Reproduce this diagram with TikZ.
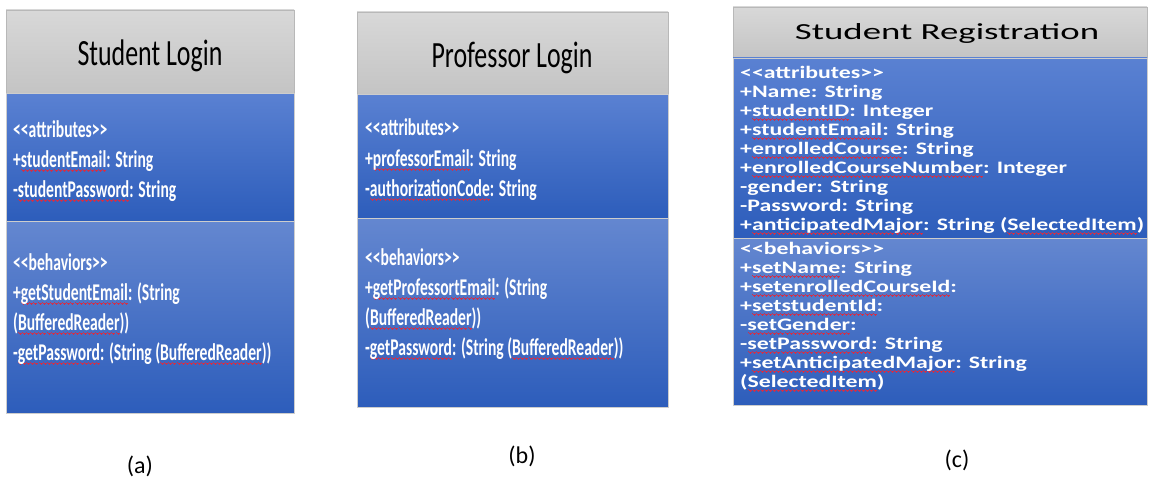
\documentclass[tikz,border=0pt]{standalone}
\usepackage{fontspec}
\setmainfont{Carlito}
\newfontfamily\condfont[FakeStretch=0.70]{Carlito}
\newfontfamily\condbody[FakeStretch=0.65]{Carlito}
\newfontfamily\widetitle[FakeStretch=1.6]{Carlito}
\newfontfamily\widebody[FakeStretch=1.36]{Carlito}
\definecolor{hdtop}{HTML}{D8D8D8}
\definecolor{hdbot}{HTML}{C4C4C4}
\definecolor{bltop}{HTML}{5A81D2}
\definecolor{blbot}{HTML}{2D5DBB}
\definecolor{bhtop}{HTML}{6487D0}
\definecolor{frame}{HTML}{B8B8B8}
\definecolor{squig}{HTML}{D0304A}
% red wavy spell-check underline, built from tiny rules
\newbox\sqbox
\newcommand{\wavechunk}{\rule[-3.4pt]{1pt}{1.2pt}\rule[-4.0pt]{1pt}{1.2pt}\rule[-4.6pt]{1pt}{1.2pt}\rule[-4.0pt]{1pt}{1.2pt}}
\newcommand{\sq}[1]{\setbox\sqbox=\hbox{#1}\rlap{\color{squig}\hbox to \wd\sqbox{\xleaders\hbox{\wavechunk}\hfill}}\box\sqbox}
\tikzset{
  header/.style={top color=hdtop, bottom color=hdbot, draw=frame, line width=0.6pt},
  attrbox/.style={top color=bltop, bottom color=blbot, draw=frame!70, line width=0.6pt},
  behbox/.style={top color=bhtop, bottom color=blbot, draw=frame!70, line width=0.6pt},
  titleA/.style={font=\condfont\fontsize{37}{40}\selectfont, anchor=base, inner sep=0pt},
  lineA/.style={font=\condbody\bfseries\fontsize{24}{28}\selectfont, text=white, anchor=base west, inner sep=0pt},
  titleC/.style={font=\widetitle\fontsize{23}{26}\selectfont, anchor=base, inner sep=0pt},
  lineC/.style={font=\widebody\bfseries\fontsize{17.5}{20}\selectfont, text=white, anchor=base west, inner sep=0pt},
  caption/.style={font=\fontsize{24}{28}\selectfont, inner sep=0pt}
}
\begin{document}
\begin{tikzpicture}[x=1pt,y=-1pt]
\useasboundingbox (0,0) rectangle (1151,487);

% ---------- (a) Student Login ----------
\path[header] (6,10) rectangle (294,93);
\path[attrbox] (6,93) rectangle (294,221);
\path[behbox] (6,221) rectangle (294,413);
\node[titleA] (aT) at (150,66) {Student Login};
\node[lineA] (a1) at (13,137) {<<attributes>>};
\node[lineA] (a2) at (13,167) {+\sq{studentEmail}: String};
\node[lineA] (a3) at (13,197) {-\sq{studentPassword}: String};
\node[lineA] (a4) at (13,270) {<<behaviors>>};
\node[lineA] (a5) at (13,300) {+\sq{getStudentEmail}: (String};
\node[lineA] (a6) at (13,330) {(\sq{BufferedReader}))};
\node[lineA] (a7) at (13,360) {-\sq{getPassword}: (String (\sq{BufferedReader}))};

% ---------- (b) Professor Login ----------
\path[header] (357,12) rectangle (668,94);
\path[attrbox] (357,94) rectangle (668,218);
\path[behbox] (357,218) rectangle (668,407);
\node[titleA] (bT) at (512,67) {Professor Login};
\node[lineA] (b1) at (365,135) {<<attributes>>};
\node[lineA] (b2) at (365,166) {+\sq{professorEmail}: String};
\node[lineA] (b3) at (365,196) {-\sq{authorizationCode}: String};
\node[lineA] (b4) at (365,265) {<<behaviors>>};
\node[lineA] (b5) at (365,295) {+\sq{getProfessortEmail}: (String};
\node[lineA] (b6) at (365,325) {(\sq{BufferedReader}))};
\node[lineA] (b7) at (365,355) {-\sq{getPassword}: (String (\sq{BufferedReader}))};

% ---------- (c) Student Registration ----------
\path[header] (733,7) rectangle (1147,58);
\path[attrbox] (733,58) rectangle (1147,238);
\path[behbox] (733,238) rectangle (1147,405);
\node[titleC] (cT) at (947,40) {Student Registration};
\node[lineC] (c1) at (740,78) {<<attributes>>};
\node[lineC] (c2) at (740,97) {+Name: String};
\node[lineC] (c3) at (740,116) {+\sq{studentID}: Integer};
\node[lineC] (c4) at (740,135) {+\sq{studentEmail}: String};
\node[lineC] (c5) at (740,154) {+\sq{enrolledCourse}: String};
\node[lineC] (c6) at (740,173) {+\sq{enrolledCourseNumber}: Integer};
\node[lineC] (c7) at (740,192) {-gender: String};
\node[lineC] (c8) at (740,211) {-Password: String};
\node[lineC] (c9) at (740,230) {+\sq{anticipatedMajor}: String (\sq{SelectedItem})};
\node[lineC] (c10) at (740,254) {<<behaviors>>};
\node[lineC] (c11) at (740,273) {+\sq{setName}: String};
\node[lineC] (c12) at (740,292) {+\sq{setenrolledCourseId}:};
\node[lineC] (c13) at (740,311) {+\sq{setstudentId}:};
\node[lineC] (c14) at (740,330) {-\sq{setGender}:};
\node[lineC] (c15) at (740,349) {-\sq{setPassword}: String};
\node[lineC] (c16) at (740,368) {+\sq{setAnticipatedMajor}: String};
\node[lineC] (c17) at (740,387) {(\sq{SelectedItem})};

% ---------- captions ----------
\node[caption] (capA) at (140,466) {(a)};
\node[caption] (capB) at (522,456) {(b)};
\node[caption] (capC) at (957,460) {(c)};
\end{tikzpicture}
\end{document}
